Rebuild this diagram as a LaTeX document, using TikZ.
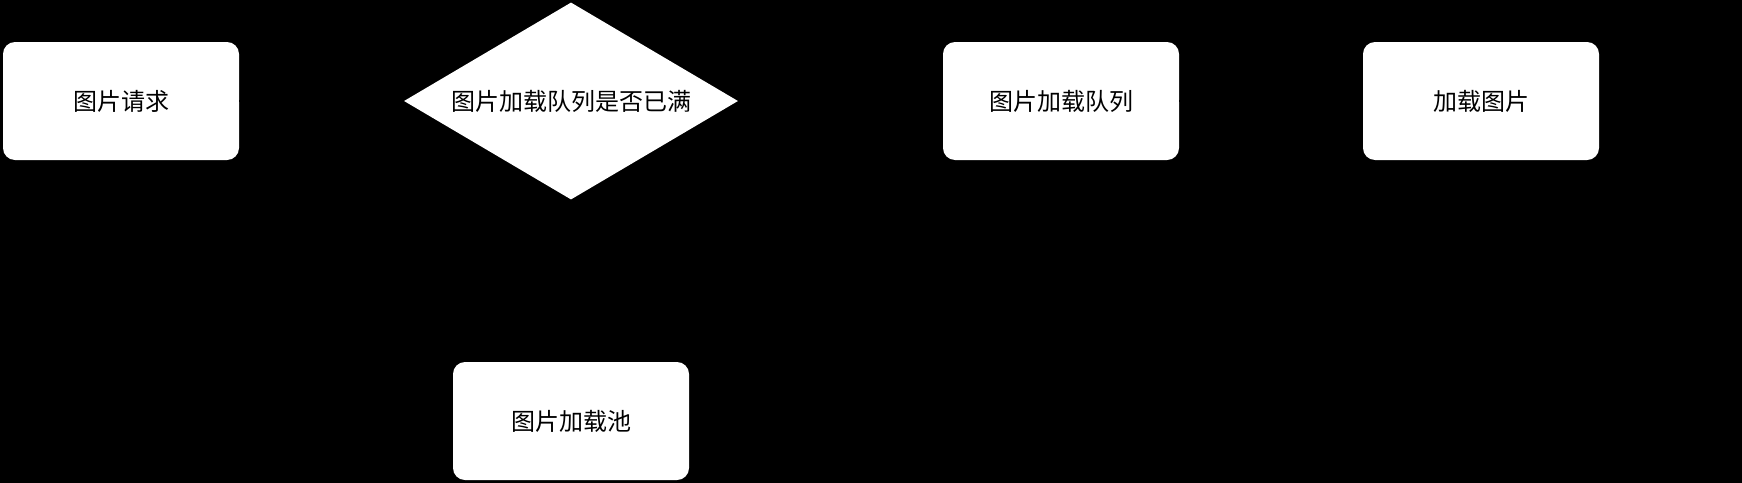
\documentclass[tikz,border=0pt]{standalone}
\usepackage{fontspec}
\usepackage{xcolor}
\usetikzlibrary{shapes.geometric,arrows.meta}
\newfontfamily\cjk{Noto Sans CJK SC}
\definecolor{hintergrund}{RGB}{0,0,0}
\definecolor{kasten}{RGB}{255,255,255}
\definecolor{pfeil}{RGB}{0,0,0}

\begin{document}
\begin{tikzpicture}[x=1pt, y=-1pt,
    every node/.style={font=\cjk\fontsize{24}{28}\selectfont, text=black},
    schritt/.style={rectangle, rounded corners=12pt, fill=kasten, inner sep=0pt,
        minimum width=236pt, minimum height=118pt},
    frage/.style={diamond, aspect=1.7, fill=kasten, inner sep=0pt,
        minimum width=334pt, minimum height=197pt},
    fluss/.style={pfeil, line width=1.5pt, -{Stealth[length=12pt]}}]
    % Hintergrund (etwas groesser als der Rahmen)
    \useasboundingbox (0,0) rectangle (1742,482);
    \fill[hintergrund] (-4,-4) rectangle (1746,486);

    % Knoten
    \node[schritt] (anfrage) at (121,101) {图片请求};
    \node[frage]   (voll)    at (571,101) {图片加载队列是否已满};
    \node[schritt] (pool)    at (571,421) {图片加载池};
    \node[schritt] (queue)   at (1061,101) {图片加载队列};
    \node[schritt] (laden)   at (1481,101) {加载图片};

    % Pfeile
    \draw[fluss] (anfrage) -- (voll);
    \draw[fluss] (voll) -- (queue);
    \draw[fluss] (queue) -- (laden);
    \draw[fluss] (voll) -- (pool);
\end{tikzpicture}
\end{document}
